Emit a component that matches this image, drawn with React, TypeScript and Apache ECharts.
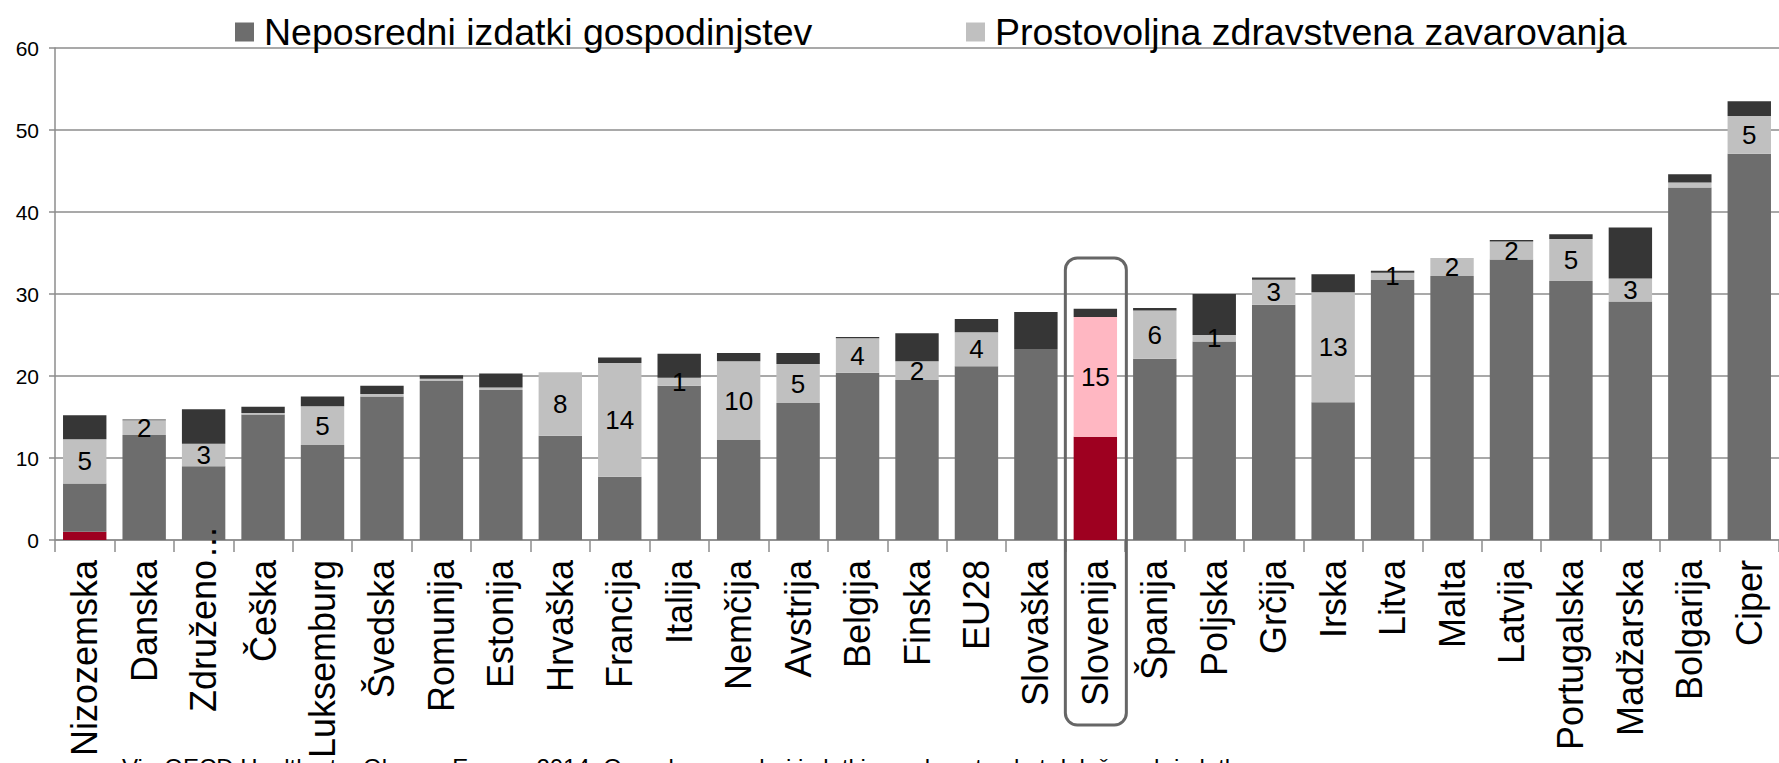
import React, { useEffect, useRef } from 'react';
import * as echarts from 'echarts';

const categories = [
  'Nizozemska', 'Danska', 'Združeno', 'Češka', 'Luksemburg', 'Švedska', 'Romunija', 'Estonija',
  'Hrvaška', 'Francija', 'Italija', 'Nemčija', 'Avstrija', 'Belgija', 'Finska', 'EU28', 'Slovaška',
  'Slovenija', 'Španija', 'Poljska', 'Grčija', 'Irska', 'Litva', 'Malta', 'Latvija', 'Portugalska',
  'Madžarska', 'Bolgarija', 'Ciper',
];

const redBase = [1.0, 0, 0, 0, 0, 0, 0, 0, 0, 0, 0, 0, 0, 0, 0, 0, 0, 0, 0, 0, 0, 0, 0, 0, 0, 0, 0, 0, 0];

const neposredni = [
  5.9, 12.8, 9.0, 15.3, 11.6, 17.5, 19.4, 18.3, 12.7, 7.7, 18.8, 12.2, 16.7, 20.4, 19.5, 21.2, 23.3,
  12.6, 22.1, 24.2, 28.7, 16.8, 31.7, 32.2, 34.2, 31.6, 29.1, 43.0, 47.1,
];

const prostovoljna = [
  5.4, 1.8, 2.75, 0.2, 4.7, 0.3, 0.25, 0.3, 7.75, 13.9, 1.0, 9.6, 4.75, 4.2, 2.3, 4.15, 0,
  14.6, 5.9, 0.8, 3.05, 13.4, 0.9, 2.2, 2.2, 5.1, 2.8, 0.6, 4.6,
];

const drugo = [
  2.9, 0.1, 4.2, 0.75, 1.2, 1.0, 0.45, 1.7, 0, 0.65, 2.9, 1.0, 1.35, 0.15, 3.4, 1.6, 4.5,
  1.0, 0.3, 5.0, 0.25, 2.2, 0.25, 0, 0.2, 0.6, 6.2, 1.0, 1.8,
];

const SERIES_NAMES = ['Neposredni izdatki gospodinjstev', 'Prostovoljna zdravstvena zavarovanja'];
const SOURCE_TEXT =
  'Vir: OECD Health at a Glance: Europe 2014. Opomba: zasebni izdatki za zdravstvo kot delež vseh izdatkov';

const HIGHLIGHT = 'Slovenija';
const ELLIPSIS_CAT = 'Združeno';
const FONT = '"Liberation Sans", Arial, Helvetica, sans-serif';
const GRID_COLOR = '#8c8c8c';

export default function App() {
  const ref = useRef<HTMLDivElement>(null);

  useEffect(() => {
    const chart = echarts.init(ref.current!, null, { renderer: 'svg' });
    const hi = categories.indexOf(HIGHLIGHT);

    const legendBase = {
      top: 8,
      icon: 'rect',
      itemWidth: 19,
      itemHeight: 19,
      selectedMode: false,
      textStyle: { fontSize: 37.5, color: '#000', fontFamily: FONT, padding: [0, 0, 0, 5] },
    };

    const option: any = {
      animation: false,
      backgroundColor: '#ffffff',
      textStyle: { fontFamily: FONT },
      grid: { left: 55, top: 48, width: 1734, height: 492, containLabel: false },
      legend: [
        { ...legendBase, left: 230, data: [SERIES_NAMES[0]] },
        { ...legendBase, left: 961, data: [SERIES_NAMES[1]] },
      ],
      xAxis: {
        type: 'category',
        data: categories,
        axisLine: { show: true, lineStyle: { color: GRID_COLOR, width: 1.5 } },
        axisTick: { show: true, length: 12, lineStyle: { color: GRID_COLOR, width: 1.5 } },
        axisLabel: {
          rotate: 90,
          interval: 0,
          fontSize: 36,
          color: '#000',
          fontFamily: FONT,
          margin: 20,
        },
      },
      yAxis: {
        type: 'value',
        min: 0,
        max: 60,
        interval: 10,
        axisLine: { show: true, lineStyle: { color: GRID_COLOR, width: 1.5 } },
        axisTick: { show: true, length: 6, lineStyle: { color: GRID_COLOR, width: 1.5 } },
        axisLabel: { fontSize: 21, color: '#000', fontFamily: FONT, margin: 16 },
        splitLine: { show: true, lineStyle: { color: GRID_COLOR, width: 1.5 } },
      },
      series: [
        {
          name: 'Rdeči del',
          type: 'bar',
          stack: 'total',
          barCategoryGap: '27%',
          itemStyle: { color: '#9e0020' },
          data: redBase,
        },
        {
          name: SERIES_NAMES[0],
          type: 'bar',
          stack: 'total',
          barCategoryGap: '27%',
          itemStyle: { color: '#6d6d6d' },
          data: neposredni.map((v, i) =>
            i === hi ? { value: v, itemStyle: { color: '#9e0020' } } : v
          ),
        },
        {
          name: SERIES_NAMES[1],
          type: 'bar',
          stack: 'total',
          barCategoryGap: '27%',
          itemStyle: { color: '#c0c0c0' },
          label: {
            show: true,
            position: 'inside',
            fontSize: 26,
            color: '#000',
            fontFamily: FONT,
            formatter: (p: any) => {
              const v = typeof p.value === 'number' ? p.value : Number(p.value);
              return v >= 0.7 ? String(Math.round(v)) : '';
            },
          },
          data: prostovoljna.map((v, i) =>
            i === hi ? { value: v, itemStyle: { color: '#ffb7c2' } } : v
          ),
        },
        {
          name: 'Drugo',
          type: 'bar',
          stack: 'total',
          barCategoryGap: '27%',
          itemStyle: { color: '#363636' },
          data: drugo,
        },
      ],
    };

    chart.setOption(option);

    const cx = chart.convertToPixel({ xAxisIndex: 0 }, HIGHLIGHT) as number;
    const y0 = chart.convertToPixel({ yAxisIndex: 0 }, 0) as number;
    const yTop = chart.convertToPixel({ yAxisIndex: 0 }, 34.4) as number;
    const cxE = chart.convertToPixel({ xAxisIndex: 0 }, ELLIPSIS_CAT) as number;

    chart.setOption({
      graphic: [
        {
          type: 'rect',
          z: 100,
          shape: { x: cx - 30, y: yTop, width: 61, height: y0 + 185 - yTop, r: 12 },
          style: { fill: 'none', stroke: '#666666', lineWidth: 3 },
        },
        {
          type: 'text',
          z: 100,
          x: cxE,
          y: y0 + 17,
          rotation: Math.PI / 2,
          style: {
            text: '...',
            fontSize: 36,
            fontFamily: FONT,
            fill: '#000',
            align: 'left',
            verticalAlign: 'middle',
          },
        },
        {
          type: 'text',
          z: 100,
          left: 122,
          top: 755,
          style: { text: SOURCE_TEXT, fontSize: 24, fontFamily: FONT, fill: '#000' },
        },
      ],
    });

    return () => chart.dispose();
  }, []);

  return (
    <div
      ref={ref}
      style={{ position: 'absolute', left: 0, top: 0, width: 1779, height: 763 }}
    />
  );
}
